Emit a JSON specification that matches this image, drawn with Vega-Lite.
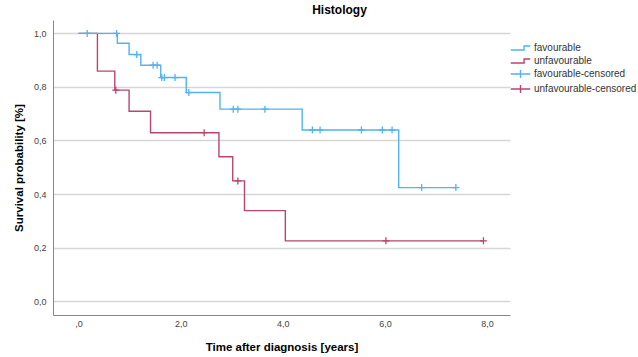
{
  "$schema": "https://vega.github.io/schema/vega-lite/v6.json",
  "width": 457,
  "height": 295,
  "autosize": {"type": "none"},
  "padding": {"left": 53, "top": 20, "right": 128, "bottom": 42},
  "background": "white",
  "title": {"text": "Histology", "fontSize": 12, "fontWeight": "bold", "font": "Liberation Sans", "color": "#000", "anchor": "middle", "dx": 58, "offset": 3},
  "config": {"view": {"stroke": null}, "font": "Liberation Sans"},
  "datasets": {
    "curves": [
      {"series": "unfavourable", "t": 0, "s": 1},
      {"series": "unfavourable", "t": 0.37, "s": 0.859},
      {"series": "unfavourable", "t": 0.71, "s": 0.788},
      {"series": "unfavourable", "t": 0.99, "s": 0.709},
      {"series": "unfavourable", "t": 1.41, "s": 0.629},
      {"series": "unfavourable", "t": 2.75, "s": 0.539},
      {"series": "unfavourable", "t": 3.02, "s": 0.449},
      {"series": "unfavourable", "t": 3.25, "s": 0.338},
      {"series": "unfavourable", "t": 4.05, "s": 0.225},
      {"series": "unfavourable", "t": 7.93, "s": 0.225},
      {"series": "favourable", "t": 0, "s": 1},
      {"series": "favourable", "t": 0.76, "s": 0.963},
      {"series": "favourable", "t": 0.99, "s": 0.921},
      {"series": "favourable", "t": 1.22, "s": 0.881},
      {"series": "favourable", "t": 1.61, "s": 0.835},
      {"series": "favourable", "t": 2.11, "s": 0.779},
      {"series": "favourable", "t": 2.77, "s": 0.717},
      {"series": "favourable", "t": 4.38, "s": 0.639},
      {"series": "favourable", "t": 6.27, "s": 0.424},
      {"series": "favourable", "t": 7.39, "s": 0.424}
    ],
    "censors": [
      {"series": "unfavourable-censored", "t": 0.73, "s": 0.788},
      {"series": "unfavourable-censored", "t": 2.46, "s": 0.629},
      {"series": "unfavourable-censored", "t": 3.12, "s": 0.449},
      {"series": "unfavourable-censored", "t": 6.02, "s": 0.225},
      {"series": "unfavourable-censored", "t": 7.93, "s": 0.225},
      {"series": "favourable-censored", "t": 0.17, "s": 1},
      {"series": "favourable-censored", "t": 0.745, "s": 1},
      {"series": "favourable-censored", "t": 1.14, "s": 0.921},
      {"series": "favourable-censored", "t": 1.46, "s": 0.881},
      {"series": "favourable-censored", "t": 1.54, "s": 0.881},
      {"series": "favourable-censored", "t": 1.63, "s": 0.835},
      {"series": "favourable-censored", "t": 1.68, "s": 0.835},
      {"series": "favourable-censored", "t": 1.89, "s": 0.835},
      {"series": "favourable-censored", "t": 2.16, "s": 0.779},
      {"series": "favourable-censored", "t": 3.03, "s": 0.717},
      {"series": "favourable-censored", "t": 3.12, "s": 0.717},
      {"series": "favourable-censored", "t": 3.65, "s": 0.717},
      {"series": "favourable-censored", "t": 4.58, "s": 0.639},
      {"series": "favourable-censored", "t": 4.73, "s": 0.639},
      {"series": "favourable-censored", "t": 5.54, "s": 0.639},
      {"series": "favourable-censored", "t": 5.95, "s": 0.639},
      {"series": "favourable-censored", "t": 6.14, "s": 0.639},
      {"series": "favourable-censored", "t": 6.72, "s": 0.424},
      {"series": "favourable-censored", "t": 7.39, "s": 0.424}
    ]
  },
  "encoding": {
    "x": {
      "field": "t", "type": "quantitative",
      "scale": {"domain": [-0.5, 8.45], "nice": false, "zero": false},
      "axis": {
        "title": "Time after diagnosis [years]",
        "values": [0, 2, 4, 6, 8],
        "labelExpr": "datum.value == 0 ? ',0' : replace(format(datum.value, '.1f'), '.', ',')",
        "grid": false, "ticks": false, "domainColor": "#888888",
        "labelFontSize": 9, "labelColor": "#444444", "labelPadding": 4,
        "titleFontSize": 11.5, "titleFontWeight": "bold", "titleColor": "#000000", "titlePadding": 13
      }
    },
    "y": {
      "field": "s", "type": "quantitative",
      "scale": {"domain": [-0.052, 1.05], "nice": false, "zero": false},
      "axis": {
        "title": "Survival probability [%]",
        "values": [0, 0.2, 0.4, 0.6, 0.8, 1],
        "labelExpr": "replace(format(datum.value, '.1f'), '.', ',')",
        "grid": true, "gridColor": "#d6d6d6", "gridWidth": 1.5,
        "ticks": false, "domainColor": "#888888",
        "labelFontSize": 9, "labelColor": "#444444", "labelPadding": 7,
        "titleFontSize": 11.5, "titleFontWeight": "bold", "titleColor": "#000000", "titlePadding": 9
      }
    }
  },
  "layer": [
    {
      "data": {"name": "curves"},
      "mark": {"type": "line", "interpolate": "step-after", "strokeWidth": 1.4},
      "encoding": {
        "color": {
          "field": "series", "type": "nominal",
          "scale": {
            "domain": ["favourable", "unfavourable", "favourable-censored", "unfavourable-censored"],
            "range": ["#52b3f0", "#b8466f", "#52b3f0", "#b8466f"]
          },
          "legend": {
            "title": null, "orient": "none", "legendX": 460, "legendY": 20.5,
            "padding": 0, "rowPadding": 0, "symbolSize": 169, "symbolStrokeWidth": 1.4,
            "labelFontSize": 10, "labelColor": "#333333", "labelOffset": 6,
            "encode": {
              "symbols": {
                "update": {
                  "shape": {"signal": "indexof(datum.value, 'censored') >= 0 ? 'M0,-0.6V0.6M-1.5,0H1.5' : 'M-1.5,0.3H0.55V-0.3H1.5'"},
                  "fill": {"value": "transparent"}
                }
              }
            }
          }
        },
        "order": {"field": "t", "type": "quantitative"}
      }
    },
    {
      "data": {"name": "censors"},
      "mark": {"type": "point", "shape": "M0,-1V1M-1,0H1", "size": 49, "filled": false, "strokeWidth": 1.3, "opacity": 1},
      "encoding": {
        "color": {"field": "series", "type": "nominal"}
      }
    }
  ]
}
